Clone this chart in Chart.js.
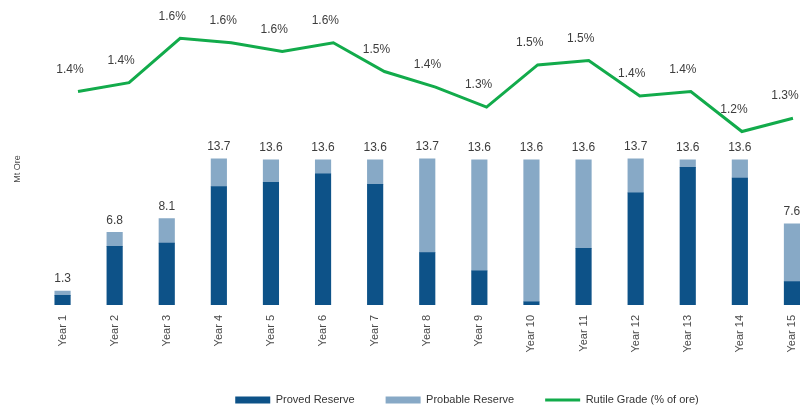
<!DOCTYPE html>
<html>
<head>
<meta charset="utf-8">
<script src="https://cdn.jsdelivr.net/npm/chart.js@4.4.1/dist/chart.umd.min.js"></script>
<style>
  html, body { margin: 0; padding: 0; background: #ffffff; overflow: hidden; }
  #wrap { width: 800px; height: 407px; position: relative; overflow: hidden; }
</style>
</head>
<body>
<div id="wrap"><canvas id="c" width="830" height="407"></canvas></div>
<script>
const categories = ['Year 1','Year 2','Year 3','Year 4','Year 5','Year 6','Year 7','Year 8','Year 9','Year 10','Year 11','Year 12','Year 13','Year 14','Year 15'];
const provedReserve   = [0.9, 5.5, 5.8, 11.1, 11.5, 12.3, 11.3, 4.9, 3.2, 0.3, 5.3, 10.5, 12.9, 11.9, 2.2];
const probableReserve = [0.4, 1.3, 2.3, 2.6, 2.1, 1.3, 2.3, 8.8, 10.4, 13.3, 8.3, 3.2, 0.7, 1.7, 5.4];
const rutileGrade     = [1.38, 1.42, 1.62, 1.60, 1.56, 1.60, 1.47, 1.40, 1.31, 1.50, 1.52, 1.36, 1.38, 1.20, 1.26];
const seriesNames = ['Proved Reserve', 'Probable Reserve', 'Rutile Grade (% of ore)'];
const yTitle = 'Mt Ore';

const FONT = "'Liberation Sans', Arial, sans-serif";
const TEXT = '#3d3d3d';
const DARK = '#0d5288';
const LIGHT = '#87a9c6';
const GREEN = '#12ab4b';

const LEGEND_DX = 52;
const LEGEND_DY = 1;
const LEGEND_H = 41;

const valueLabels = {
  id: 'valueLabels',
  afterDatasetsDraw(chart) {
    const ctx = chart.ctx;
    ctx.save();
    ctx.font = '12px ' + FONT;
    ctx.fillStyle = TEXT;
    ctx.textAlign = 'center';
    ctx.textBaseline = 'middle';
    const topMeta = chart.getDatasetMeta(1);
    topMeta.data.forEach((el, i) => {
      const total = provedReserve[i] + probableReserve[i];
      ctx.fillText(total.toFixed(1), el.x, el.y - 12);
    });
    const lineMeta = chart.getDatasetMeta(2);
    lineMeta.data.forEach((el, i) => {
      ctx.fillText(rutileGrade[i].toFixed(1) + '%', el.x - 8, el.y - 22);
    });
    ctx.restore();
  }
};

const legendTweak = {
  id: 'legendTweak',
  beforeLayout(chart) {
    const l = chart.legend;
    if (l && !l._wrapped) {
      const fit = l.fit;
      l.fit = function () { fit.call(this); this.height = LEGEND_H; };
      l._wrapped = true;
    }
  },
  afterLayout(chart) {
    const l = chart.legend;
    if (!l) return;
    l.left += LEGEND_DX; l.right += LEGEND_DX;
    l.top += LEGEND_DY; l.bottom += LEGEND_DY;
  }
};

new Chart(document.getElementById('c'), {
  type: 'bar',
  data: {
    labels: categories,
    datasets: [
      { label: seriesNames[0], data: provedReserve, backgroundColor: DARK, borderWidth: 0,
        barThickness: 15.5, grouped: false, stack: 'reserve', xAxisID: 'x', yAxisID: 'y' },
      { label: seriesNames[1], data: probableReserve, backgroundColor: LIGHT, borderWidth: 0,
        barThickness: 15.5, grouped: false, stack: 'reserve', xAxisID: 'x', yAxisID: 'y' },
      { type: 'line', label: seriesNames[2], data: rutileGrade.map((v, i) => ({ x: i, y: v })),
        borderColor: GREEN, backgroundColor: GREEN, borderWidth: 3, pointRadius: 0,
        tension: 0, fill: false, xAxisID: 'x2', yAxisID: 'y2' }
    ]
  },
  options: {
    responsive: false,
    animation: false,
    layout: { padding: { left: 12, right: 12, top: 33, bottom: 3.5 } },
    scales: {
      x: {
        stacked: true,
        grid: { display: false, drawTicks: false },
        border: { display: false },
        ticks: { autoSkip: false, minRotation: 90, maxRotation: 90, padding: 10,
                 color: '#4a4a4a', font: { family: FONT, size: 11 } }
      },
      x2: {
        type: 'linear', display: false, offset: false, bounds: 'data', min: -0.8126, max: 14.49
      },
      y: {
        stacked: true, min: 0, max: 25.49,
        grid: { display: false, drawTicks: false },
        border: { display: false },
        ticks: { display: false },
        title: { display: true, text: yTitle, color: '#4a4a4a',
                 font: { family: FONT, size: 9 }, padding: { top: 0.6, bottom: 13.1 } }
      },
      y2: {
        type: 'linear', display: false, offset: false, bounds: 'data', min: 0.4185, max: 1.6437
      }
    },
    plugins: {
      tooltip: { enabled: false },
      legend: {
        position: 'bottom',
        labels: {
          usePointStyle: true,
          pointStyleWidth: 35,
          boxHeight: 7,
          padding: 31,
          color: '#333333',
          font: { family: FONT, size: 11 },
          generateLabels(chart) {
            return chart.data.datasets.map((ds, i) => ({
              text: ds.label,
              datasetIndex: i,
              fillStyle: i === 2 ? GREEN : ds.backgroundColor,
              strokeStyle: i === 2 ? GREEN : ds.backgroundColor,
              lineWidth: i === 2 ? 3 : 0,
              pointStyle: i === 2 ? 'line' : 'rect',
              fontColor: '#333333',
              hidden: false
            }));
          }
        }
      }
    }
  },
  plugins: [valueLabels, legendTweak]
});
</script>
</body>
</html>
